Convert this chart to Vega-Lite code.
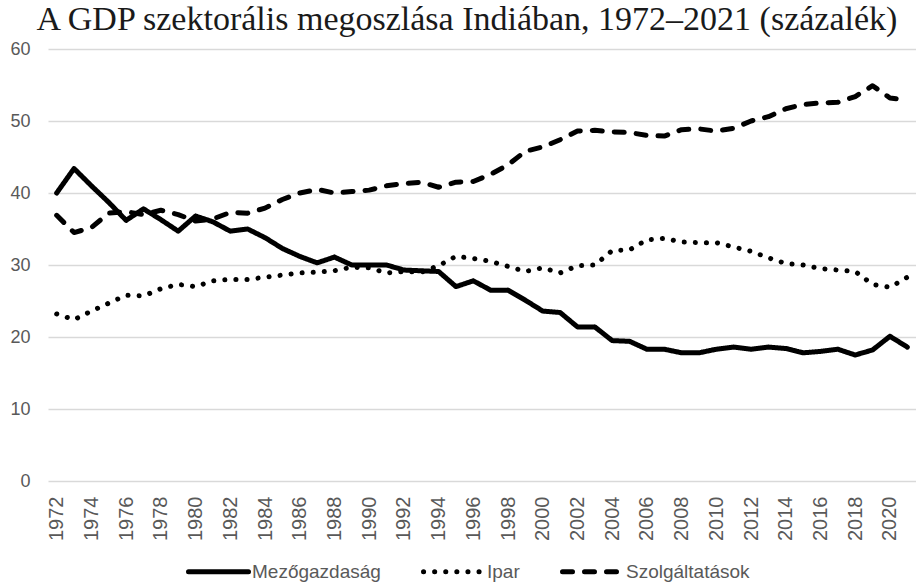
{
  "$schema": "https://vega.github.io/schema/vega-lite/v6.json",
  "width": 868,
  "height": 432,
  "autosize": {"type": "none"},
  "padding": {"left": 48, "top": 49, "right": 0, "bottom": 106},
  "background": "white",
  "title": {
    "text": "A GDP szektorális megoszlása Indiában, 1972–2021 (százalék)",
    "font": "Liberation Serif",
    "fontSize": 34,
    "fontWeight": "normal",
    "color": "#1a1a1a",
    "anchor": "middle",
    "dx": -15,
    "offset": 3
  },
  "config": {
    "view": {"stroke": null},
    "axis": {"labelFont": "Liberation Sans", "labelColor": "#595959"},
    "legend": {"labelFont": "Liberation Sans", "labelColor": "#595959"}
  },
  "data": {
    "values": [
      {"year": 1972, "sector": "Mezőgazdaság", "value": 40.0},
      {"year": 1973, "sector": "Mezőgazdaság", "value": 43.4},
      {"year": 1974, "sector": "Mezőgazdaság", "value": 41.0},
      {"year": 1975, "sector": "Mezőgazdaság", "value": 38.7},
      {"year": 1976, "sector": "Mezőgazdaság", "value": 36.2},
      {"year": 1977, "sector": "Mezőgazdaság", "value": 37.8},
      {"year": 1978, "sector": "Mezőgazdaság", "value": 36.3},
      {"year": 1979, "sector": "Mezőgazdaság", "value": 34.7},
      {"year": 1980, "sector": "Mezőgazdaság", "value": 36.8},
      {"year": 1981, "sector": "Mezőgazdaság", "value": 36.0},
      {"year": 1982, "sector": "Mezőgazdaság", "value": 34.7},
      {"year": 1983, "sector": "Mezőgazdaság", "value": 35.0},
      {"year": 1984, "sector": "Mezőgazdaság", "value": 33.8},
      {"year": 1985, "sector": "Mezőgazdaság", "value": 32.3},
      {"year": 1986, "sector": "Mezőgazdaság", "value": 31.2},
      {"year": 1987, "sector": "Mezőgazdaság", "value": 30.3},
      {"year": 1988, "sector": "Mezőgazdaság", "value": 31.1},
      {"year": 1989, "sector": "Mezőgazdaság", "value": 30.0},
      {"year": 1990, "sector": "Mezőgazdaság", "value": 30.0},
      {"year": 1991, "sector": "Mezőgazdaság", "value": 30.0},
      {"year": 1992, "sector": "Mezőgazdaság", "value": 29.3},
      {"year": 1993, "sector": "Mezőgazdaság", "value": 29.2},
      {"year": 1994, "sector": "Mezőgazdaság", "value": 29.1},
      {"year": 1995, "sector": "Mezőgazdaság", "value": 27.0},
      {"year": 1996, "sector": "Mezőgazdaság", "value": 27.8},
      {"year": 1997, "sector": "Mezőgazdaság", "value": 26.5},
      {"year": 1998, "sector": "Mezőgazdaság", "value": 26.5},
      {"year": 1999, "sector": "Mezőgazdaság", "value": 25.1},
      {"year": 2000, "sector": "Mezőgazdaság", "value": 23.6},
      {"year": 2001, "sector": "Mezőgazdaság", "value": 23.4},
      {"year": 2002, "sector": "Mezőgazdaság", "value": 21.4},
      {"year": 2003, "sector": "Mezőgazdaság", "value": 21.4},
      {"year": 2004, "sector": "Mezőgazdaság", "value": 19.5},
      {"year": 2005, "sector": "Mezőgazdaság", "value": 19.4},
      {"year": 2006, "sector": "Mezőgazdaság", "value": 18.3},
      {"year": 2007, "sector": "Mezőgazdaság", "value": 18.3},
      {"year": 2008, "sector": "Mezőgazdaság", "value": 17.8},
      {"year": 2009, "sector": "Mezőgazdaság", "value": 17.8},
      {"year": 2010, "sector": "Mezőgazdaság", "value": 18.3},
      {"year": 2011, "sector": "Mezőgazdaság", "value": 18.6},
      {"year": 2012, "sector": "Mezőgazdaság", "value": 18.3},
      {"year": 2013, "sector": "Mezőgazdaság", "value": 18.6},
      {"year": 2014, "sector": "Mezőgazdaság", "value": 18.4},
      {"year": 2015, "sector": "Mezőgazdaság", "value": 17.8},
      {"year": 2016, "sector": "Mezőgazdaság", "value": 18.0},
      {"year": 2017, "sector": "Mezőgazdaság", "value": 18.3},
      {"year": 2018, "sector": "Mezőgazdaság", "value": 17.5},
      {"year": 2019, "sector": "Mezőgazdaság", "value": 18.2},
      {"year": 2020, "sector": "Mezőgazdaság", "value": 20.1},
      {"year": 2021, "sector": "Mezőgazdaság", "value": 18.6},
      {"year": 1972, "sector": "Ipar", "value": 23.2},
      {"year": 1973, "sector": "Ipar", "value": 22.4},
      {"year": 1974, "sector": "Ipar", "value": 23.6},
      {"year": 1975, "sector": "Ipar", "value": 24.7},
      {"year": 1976, "sector": "Ipar", "value": 25.8},
      {"year": 1977, "sector": "Ipar", "value": 25.7},
      {"year": 1978, "sector": "Ipar", "value": 26.7},
      {"year": 1979, "sector": "Ipar", "value": 27.3},
      {"year": 1980, "sector": "Ipar", "value": 27.0},
      {"year": 1981, "sector": "Ipar", "value": 27.8},
      {"year": 1982, "sector": "Ipar", "value": 28.0},
      {"year": 1983, "sector": "Ipar", "value": 28.0},
      {"year": 1984, "sector": "Ipar", "value": 28.3},
      {"year": 1985, "sector": "Ipar", "value": 28.6},
      {"year": 1986, "sector": "Ipar", "value": 28.9},
      {"year": 1987, "sector": "Ipar", "value": 29.0},
      {"year": 1988, "sector": "Ipar", "value": 29.2},
      {"year": 1989, "sector": "Ipar", "value": 29.7},
      {"year": 1990, "sector": "Ipar", "value": 29.6},
      {"year": 1991, "sector": "Ipar", "value": 28.9},
      {"year": 1992, "sector": "Ipar", "value": 29.1},
      {"year": 1993, "sector": "Ipar", "value": 29.0},
      {"year": 1994, "sector": "Ipar", "value": 29.9},
      {"year": 1995, "sector": "Ipar", "value": 31.2},
      {"year": 1996, "sector": "Ipar", "value": 30.9},
      {"year": 1997, "sector": "Ipar", "value": 30.5},
      {"year": 1998, "sector": "Ipar", "value": 29.8},
      {"year": 1999, "sector": "Ipar", "value": 29.1},
      {"year": 2000, "sector": "Ipar", "value": 29.6},
      {"year": 2001, "sector": "Ipar", "value": 28.9},
      {"year": 2002, "sector": "Ipar", "value": 29.9},
      {"year": 2003, "sector": "Ipar", "value": 30.0},
      {"year": 2004, "sector": "Ipar", "value": 32.0},
      {"year": 2005, "sector": "Ipar", "value": 32.1},
      {"year": 2006, "sector": "Ipar", "value": 33.5},
      {"year": 2007, "sector": "Ipar", "value": 33.7},
      {"year": 2008, "sector": "Ipar", "value": 33.2},
      {"year": 2009, "sector": "Ipar", "value": 33.1},
      {"year": 2010, "sector": "Ipar", "value": 33.1},
      {"year": 2011, "sector": "Ipar", "value": 32.5},
      {"year": 2012, "sector": "Ipar", "value": 31.9},
      {"year": 2013, "sector": "Ipar", "value": 31.0},
      {"year": 2014, "sector": "Ipar", "value": 30.2},
      {"year": 2015, "sector": "Ipar", "value": 30.0},
      {"year": 2016, "sector": "Ipar", "value": 29.5},
      {"year": 2017, "sector": "Ipar", "value": 29.3},
      {"year": 2018, "sector": "Ipar", "value": 29.1},
      {"year": 2019, "sector": "Ipar", "value": 27.3},
      {"year": 2020, "sector": "Ipar", "value": 26.9},
      {"year": 2021, "sector": "Ipar", "value": 28.3},
      {"year": 1972, "sector": "Szolgáltatások", "value": 36.9},
      {"year": 1973, "sector": "Szolgáltatások", "value": 34.5},
      {"year": 1974, "sector": "Szolgáltatások", "value": 35.2},
      {"year": 1975, "sector": "Szolgáltatások", "value": 37.2},
      {"year": 1976, "sector": "Szolgáltatások", "value": 37.4},
      {"year": 1977, "sector": "Szolgáltatások", "value": 37.0},
      {"year": 1978, "sector": "Szolgáltatások", "value": 37.6},
      {"year": 1979, "sector": "Szolgáltatások", "value": 37.0},
      {"year": 1980, "sector": "Szolgáltatások", "value": 36.1},
      {"year": 1981, "sector": "Szolgáltatások", "value": 36.4},
      {"year": 1982, "sector": "Szolgáltatások", "value": 37.3},
      {"year": 1983, "sector": "Szolgáltatások", "value": 37.2},
      {"year": 1984, "sector": "Szolgáltatások", "value": 37.9},
      {"year": 1985, "sector": "Szolgáltatások", "value": 39.1},
      {"year": 1986, "sector": "Szolgáltatások", "value": 40.0},
      {"year": 1987, "sector": "Szolgáltatások", "value": 40.5},
      {"year": 1988, "sector": "Szolgáltatások", "value": 40.0},
      {"year": 1989, "sector": "Szolgáltatások", "value": 40.2},
      {"year": 1990, "sector": "Szolgáltatások", "value": 40.4},
      {"year": 1991, "sector": "Szolgáltatások", "value": 41.0},
      {"year": 1992, "sector": "Szolgáltatások", "value": 41.3},
      {"year": 1993, "sector": "Szolgáltatások", "value": 41.5},
      {"year": 1994, "sector": "Szolgáltatások", "value": 40.8},
      {"year": 1995, "sector": "Szolgáltatások", "value": 41.5},
      {"year": 1996, "sector": "Szolgáltatások", "value": 41.6},
      {"year": 1997, "sector": "Szolgáltatások", "value": 42.6},
      {"year": 1998, "sector": "Szolgáltatások", "value": 43.9},
      {"year": 1999, "sector": "Szolgáltatások", "value": 45.8},
      {"year": 2000, "sector": "Szolgáltatások", "value": 46.4},
      {"year": 2001, "sector": "Szolgáltatások", "value": 47.4},
      {"year": 2002, "sector": "Szolgáltatások", "value": 48.6},
      {"year": 2003, "sector": "Szolgáltatások", "value": 48.7},
      {"year": 2004, "sector": "Szolgáltatások", "value": 48.5},
      {"year": 2005, "sector": "Szolgáltatások", "value": 48.4},
      {"year": 2006, "sector": "Szolgáltatások", "value": 48.0},
      {"year": 2007, "sector": "Szolgáltatások", "value": 47.9},
      {"year": 2008, "sector": "Szolgáltatások", "value": 48.8},
      {"year": 2009, "sector": "Szolgáltatások", "value": 48.9},
      {"year": 2010, "sector": "Szolgáltatások", "value": 48.6},
      {"year": 2011, "sector": "Szolgáltatások", "value": 49.0},
      {"year": 2012, "sector": "Szolgáltatások", "value": 50.0},
      {"year": 2013, "sector": "Szolgáltatások", "value": 50.6},
      {"year": 2014, "sector": "Szolgáltatások", "value": 51.7},
      {"year": 2015, "sector": "Szolgáltatások", "value": 52.3},
      {"year": 2016, "sector": "Szolgáltatások", "value": 52.5},
      {"year": 2017, "sector": "Szolgáltatások", "value": 52.6},
      {"year": 2018, "sector": "Szolgáltatások", "value": 53.4},
      {"year": 2019, "sector": "Szolgáltatások", "value": 54.9},
      {"year": 2020, "sector": "Szolgáltatások", "value": 53.2},
      {"year": 2021, "sector": "Szolgáltatások", "value": 52.9}
    ]
  },
  "mark": {
    "type": "line",
    "color": "black",
    "strokeWidth": 5,
    "strokeCap": "round",
    "strokeJoin": "round"
  },
  "encoding": {
    "x": {
      "field": "year",
      "type": "ordinal",
      "scale": {"type": "point", "padding": 0.5},
      "axis": {
        "title": null,
        "values": [1972, 1974, 1976, 1978, 1980, 1982, 1984, 1986, 1988, 1990, 1992, 1994, 1996, 1998, 2000, 2002, 2004, 2006, 2008, 2010, 2012, 2014, 2016, 2018, 2020],
        "labelAngle": -90,
        "labelFontSize": 20,
        "labelPadding": 15,
        "ticks": false,
        "domain": false,
        "grid": false
      }
    },
    "y": {
      "field": "value",
      "type": "quantitative",
      "scale": {"domain": [0, 60], "nice": false},
      "axis": {
        "title": null,
        "values": [0, 10, 20, 30, 40, 50, 60],
        "labelFontSize": 18,
        "labelPadding": 18,
        "ticks": false,
        "domain": false,
        "grid": true,
        "gridColor": "#d9d9d9",
        "gridWidth": 1.5
      }
    },
    "strokeDash": {
      "field": "sector",
      "type": "nominal",
      "scale": {
        "domain": ["Mezőgazdaság", "Ipar", "Szolgáltatások"],
        "range": [[1, 0], [0.1, 11], [10, 12]]
      },
      "legend": {
        "title": null,
        "orient": "none",
        "legendX": 138,
        "legendY": 490,
        "direction": "horizontal",
        "symbolType": "stroke",
        "symbolSize": 3600,
        "symbolStrokeWidth": 5,
        "symbolStrokeColor": "black",
        "labelFontSize": 19,
        "labelOffset": 1,
        "columnPadding": 32,
        "encode": {"symbols": {"update": {"strokeCap": {"value": "round"}}}}
      }
    }
  }
}
